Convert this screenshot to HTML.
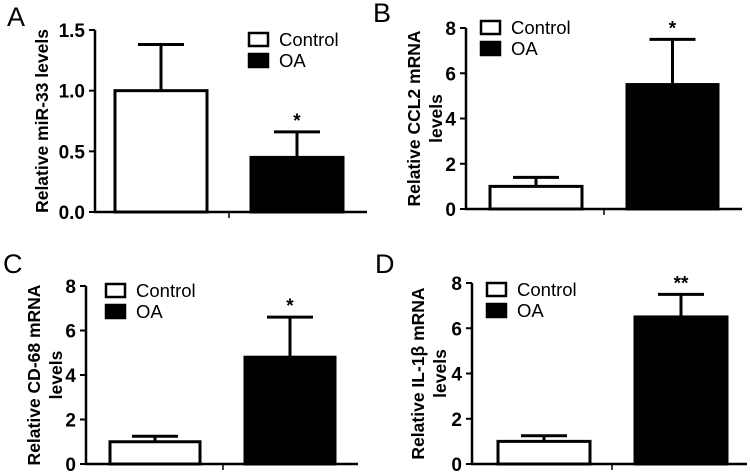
<!DOCTYPE html>
<html><head><meta charset="utf-8"><style>
body{margin:0;background:#fff;width:750px;height:472px;overflow:hidden}
svg{display:block;font-family:"Liberation Sans",Arial,sans-serif}
</style></head><body>
<svg id="fig" width="750" height="472"></svg>
<script>
const categories = ["Control", "OA"];
const meansA = [1.0, 0.45];   const errA = [0.38, 0.21];
const meansB = [1.0, 5.5];    const errB = [0.4, 2.0];
const meansC = [1.0, 4.8];    const errC = [0.25, 1.8];
const meansD = [1.0, 6.5];    const errD = [0.25, 1.0];
const ticksA = [0, 0.5, 1.0, 1.5]; const tickLabelsA = ["0.0","0.5","1.0","1.5"];
const ticks8 = [0, 2, 4, 6, 8];    const tickLabels8 = ["0","2","4","6","8"];
const starsA = ["", "*"]; const starsB = ["", "*"]; const starsC = ["", "*"]; const starsD = ["", "**"];

const NS = "http://www.w3.org/2000/svg";
const svg = document.getElementById("fig");
function mk(tag, attrs, parent, text){
  const e = document.createElementNS(NS, tag);
  for (const k in attrs) e.setAttribute(k, attrs[k]);
  if (text !== undefined) e.textContent = text;
  parent.appendChild(e); return e;
}
function panel(p){
  const g = mk("g", {}, svg);
  
  
  const y = v => p.y0 - (v / p.ymax) * (p.y0 - p.ytop);
  const lt = mk("text", {x:p.lx, y:p.ly, "font-size":27}, g, p.id);
  
  
  for (let i = 0; i < 2; i++){
    const x0 = p.bars[i][0], x1 = p.bars[i][1], xm = (x0 + x1) / 2;
    const top = y(p.means[i] + p.err[i]);
    const el = mk("line", {x1:xm, x2:xm, y1:y(p.means[i]), y2:top, stroke:"#000","stroke-width":3}, g);
    
    
    const cap = mk("line", {x1:xm-23, x2:xm+23, y1:top, y2:top, stroke:"#000","stroke-width":3}, g);
    
    
    const r = mk("rect", {x:x0, y:y(p.means[i]), width:x1-x0, height:p.y0-y(p.means[i]), fill:i?"#000":"#fff", stroke:"#000","stroke-width":3}, g);
    
    
    if (p.stars[i]){
      const s = mk("text", {x:xm, y:top-5, "font-size":19, "font-weight":"bold", "text-anchor":"middle"}, g, p.stars[i]);
      
      
    }
  }
  const ya = mk("line", {x1:p.ax, x2:p.ax, y1:p.ytop, y2:p.y0+1, stroke:"#000","stroke-width":2.5}, g);
  
  
  const xa = mk("line", {x1:p.ax-1, x2:p.axEnd, y1:p.y0, y2:p.y0, stroke:"#000","stroke-width":2.5}, g);
  
  
  const xt = mk("line", {x1:p.tickX, x2:p.tickX, y1:p.y0, y2:p.y0+6, stroke:"#000","stroke-width":1.5}, g);
  
  
  p.ticks.forEach((t, k) => {
    const tk = mk("line", {x1:p.ax-6, x2:p.ax, y1:y(t), y2:y(t), stroke:"#000","stroke-width":2}, g);
    
    
    const tl = mk("text", {x:p.ax-10, y:y(t)+7, "font-size":19, "font-weight":"bold", "text-anchor":"end"}, g, p.tickLabels[k]);
    
    
  });
  p.title.forEach((line, k) => {
    const cx = p.tx + k * 22, cy = (p.ytop + p.y0) / 2;
    const t = mk("text", {x:cx, y:cy, "font-size":17.5, "font-weight":"bold", "text-anchor":"middle", transform:`rotate(-90 ${cx} ${cy})`, "dominant-baseline":"central"}, g, line);
    
    
  });
  for (let i = 0; i < 2; i++){
    const ly = p.legY + i * 21;
    const lb = mk("rect", {x:p.legX, y:ly, width:19, height:13, fill:i?"#000":"#fff", stroke:"#000","stroke-width":2.5}, g);
    
    
    const ltx = mk("text", {x:p.legX+30, y:ly+13, "font-size":18.5}, g, categories[i]);
    
    
  }
}
panel({id:"A", lx:7, ly:26, means:meansA, err:errA, stars:starsA, ymax:1.5, ticks:ticksA, tickLabels:tickLabelsA,
  ax:95, axEnd:367, ytop:30, y0:212, bars:[[115,207],[251,343]], tickX:229, tx:42, title:["Relative miR-33 levels"], legX:249, legY:33});
panel({id:"B", lx:373, ly:22, means:meansB, err:errB, stars:starsB, ymax:8, ticks:ticks8, tickLabels:tickLabels8,
  ax:466, axEnd:742, ytop:28, y0:209, bars:[[490,582],[627,718]], tickX:604, tx:414, title:["Relative CCL2 mRNA","levels"], legX:481, legY:21});
panel({id:"C", lx:3, ly:273, means:meansC, err:errC, stars:starsC, ymax:8, ticks:ticks8, tickLabels:tickLabels8,
  ax:86, axEnd:358, ytop:286, y0:464, bars:[[110,200],[245,335]], tickX:223, tx:34, title:["Relative CD-68 mRNA","levels"], legX:106, legY:284});
panel({id:"D", lx:375, ly:273, means:meansD, err:errD, stars:starsD, ymax:8, ticks:ticks8, tickLabels:tickLabels8,
  ax:472, axEnd:747, ytop:283, y0:464, bars:[[498,590],[635,727]], tickX:612, tx:418, title:["Relative IL-1β mRNA","levels"], legX:487, legY:283});
</script>
</body></html>
